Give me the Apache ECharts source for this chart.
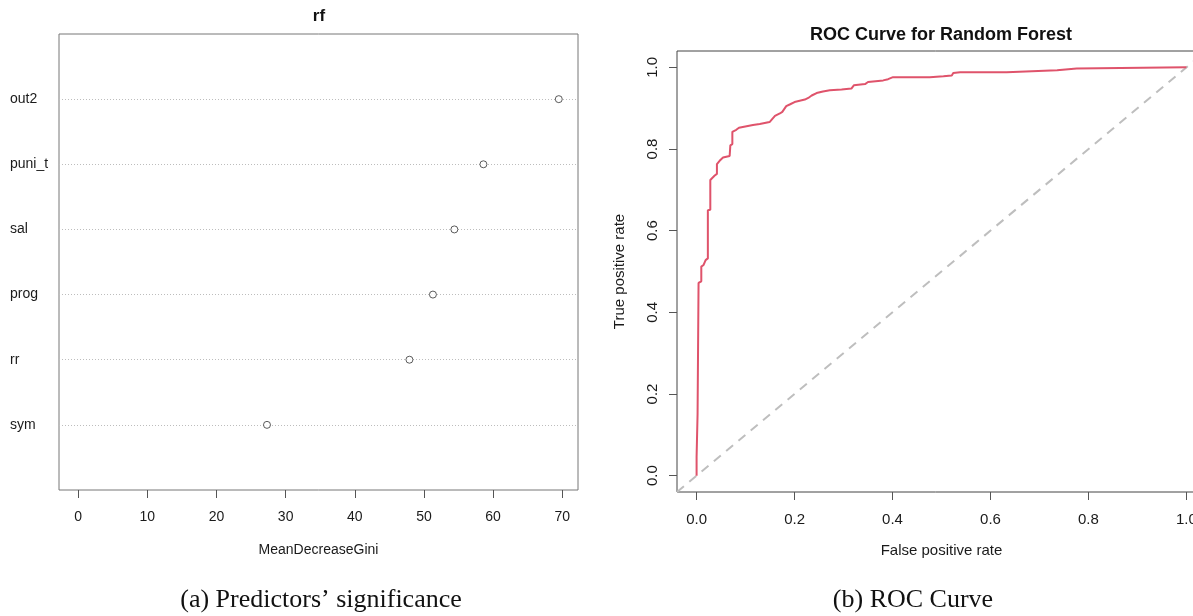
<!DOCTYPE html>
<html>
<head>
<meta charset="utf-8">
<script src="https://cdn.jsdelivr.net/npm/echarts@6/dist/echarts.min.js"></script>
<style>
  html, body { margin: 0; padding: 0; background: #fff; }
  #chart { width: 1193px; height: 616px; }
</style>
</head>
<body>
<div id="chart"></div>
<script>
// ---- Data ----
const varNames = ['out2', 'puni_t', 'sal', 'prog', 'rr', 'sym'];
const giniValues = [69.5, 58.6, 54.4, 51.3, 47.9, 27.3];
const giniTicks = [0, 10, 20, 30, 40, 50, 60, 70];

const fprValues = [0, 0, 0.002, 0.002, 0.004, 0.004, 0.0096, 0.0096, 0.0143, 0.0184, 0.023, 0.023,
  0.028, 0.028, 0.030, 0.037, 0.0415, 0.0415, 0.0436, 0.047, 0.054, 0.057, 0.0675, 0.0689, 0.073,
  0.073, 0.081, 0.0865, 0.115, 0.129, 0.149, 0.160, 0.170, 0.175, 0.183, 0.190, 0.200, 0.221,
  0.228, 0.235, 0.245, 0.258, 0.272, 0.296, 0.316, 0.321, 0.344, 0.350, 0.381, 0.391, 0.401,
  0.476, 0.504, 0.521, 0.524, 0.538, 0.633, 0.637, 0.736, 0.776, 0.78, 1.0];
const tprValues = [0, 0.046, 0.046, 0.151, 0.151, 0.472, 0.476, 0.512, 0.516, 0.528, 0.532, 0.650,
  0.651, 0.724, 0.727, 0.735, 0.739, 0.763, 0.765, 0.771, 0.779, 0.783, 0.783, 0.809, 0.812,
  0.842, 0.847, 0.852, 0.859, 0.861, 0.866, 0.881, 0.887, 0.891, 0.905, 0.909, 0.915, 0.921,
  0.925, 0.931, 0.937, 0.941, 0.944, 0.946, 0.948, 0.956, 0.959, 0.964, 0.968, 0.971, 0.976,
  0.976, 0.978, 0.980, 0.986, 0.988, 0.988, 0.991, 0.993, 0.997, 1.0, 1.0];
const rateTicks = [0, 0.2, 0.4, 0.6, 0.8, 1.0];
const diagonal = [[-0.04, -0.04], [1.04, 1.04]];

const sans = "'Liberation Sans', Arial, sans-serif";

const chart = echarts.init(document.getElementById('chart'), null, { renderer: 'canvas' });

const tickStyle = { show: true, inside: false, length: 8, lineStyle: { color: '#555', width: 1 } };

const option = {
  animation: false,
  backgroundColor: '#fff',
  grid: [
    { left: 59, width: 519, top: 34, height: 456, show: true, borderColor: '#777', borderWidth: 1,
      containLabel: false, outerBoundsMode: 'none' },
    { left: 677, width: 529, top: 51, height: 441, show: true, borderColor: '#444', borderWidth: 1,
      containLabel: false, outerBoundsMode: 'none' }
  ],
  xAxis: [
    {
      gridIndex: 0, type: 'value', min: -2.78, max: 72.28, position: 'bottom',
      axisLine: { show: false, onZero: false },
      axisTick: Object.assign({ customValues: giniTicks }, tickStyle),
      axisLabel: { customValues: giniTicks, margin: 20, fontFamily: sans, fontSize: 14, color: '#1a1a1a' },
      splitLine: { show: false },
      name: 'MeanDecreaseGini', nameLocation: 'middle', nameGap: 53,
      nameTextStyle: { fontFamily: sans, fontSize: 14, color: '#1a1a1a' }
    },
    {
      gridIndex: 1, type: 'value', min: -0.04, max: 1.04, position: 'bottom',
      axisLine: { show: false, onZero: false },
      axisTick: Object.assign({ customValues: rateTicks }, tickStyle),
      axisLabel: { customValues: rateTicks, margin: 20, fontFamily: sans, fontSize: 15, color: '#1a1a1a',
        formatter: v => v.toFixed(1) },
      splitLine: { show: false },
      name: 'False positive rate', nameLocation: 'middle', nameGap: 51,
      nameTextStyle: { fontFamily: sans, fontSize: 15, color: '#1a1a1a' }
    }
  ],
  yAxis: [
    {
      gridIndex: 0, type: 'value', min: 0, max: 7, interval: 1, inverse: true, position: 'left',
      axisLine: { show: false, onZero: false },
      axisTick: { show: false },
      axisLabel: { align: 'left', margin: 49, fontFamily: sans, fontSize: 14, color: '#1a1a1a',
        formatter: v => varNames[v - 1] || '' },
      splitLine: { show: true, showMinLine: false, showMaxLine: false,
        lineStyle: { color: '#bdbdbd', type: [1, 2], width: 1 } }
    },
    {
      gridIndex: 1, type: 'value', min: -0.04, max: 1.04, position: 'left',
      axisLine: { show: false, onZero: false },
      axisTick: Object.assign({ customValues: rateTicks }, tickStyle),
      axisLabel: { customValues: rateTicks, rotate: 90, margin: 17, fontFamily: sans, fontSize: 15, color: '#1a1a1a',
        formatter: v => v.toFixed(1) },
      splitLine: { show: false },
      name: 'True positive rate', nameLocation: 'middle', nameGap: 50,
      nameTextStyle: { fontFamily: sans, fontSize: 15, color: '#1a1a1a' }
    }
  ],
  series: [
    {
      type: 'scatter', xAxisIndex: 0, yAxisIndex: 0,
      data: giniValues.map((v, i) => [v, i + 1]),
      symbol: 'circle', symbolSize: 7,
      itemStyle: { color: '#fff', borderColor: '#333', borderWidth: 1 },
      silent: true
    },
    {
      type: 'line', xAxisIndex: 1, yAxisIndex: 1,
      data: diagonal, symbol: 'none',
      lineStyle: { color: '#bebebe', width: 2, type: [9, 7] },
      silent: true
    },
    {
      type: 'line', xAxisIndex: 1, yAxisIndex: 1,
      data: fprValues.map((x, i) => [x, tprValues[i]]), symbol: 'none',
      lineStyle: { color: '#DF536B', width: 2 },
      silent: true, z: 3
    }
  ],
  graphic: [
    { type: 'text', x: 319, y: 16, style: { text: 'rf', textAlign: 'center', textVerticalAlign: 'middle',
      font: "bold 17px 'Liberation Sans', Arial, sans-serif", fill: '#111' } },
    { type: 'text', x: 941, y: 35, style: { text: 'ROC Curve for Random Forest', textAlign: 'center', textVerticalAlign: 'middle',
      font: "bold 18px 'Liberation Sans', Arial, sans-serif", fill: '#111' } },
    { type: 'text', x: 321, y: 600, style: { text: '(a) Predictors\u2019 significance', textAlign: 'center', textVerticalAlign: 'middle',
      font: "26px 'Liberation Serif', 'Times New Roman', serif", fill: '#111' } },
    { type: 'text', x: 913, y: 600, style: { text: '(b) ROC Curve', textAlign: 'center', textVerticalAlign: 'middle',
      font: "26px 'Liberation Serif', 'Times New Roman', serif", fill: '#111' } }
  ]
};

chart.setOption(option);
</script>
</body>
</html>
